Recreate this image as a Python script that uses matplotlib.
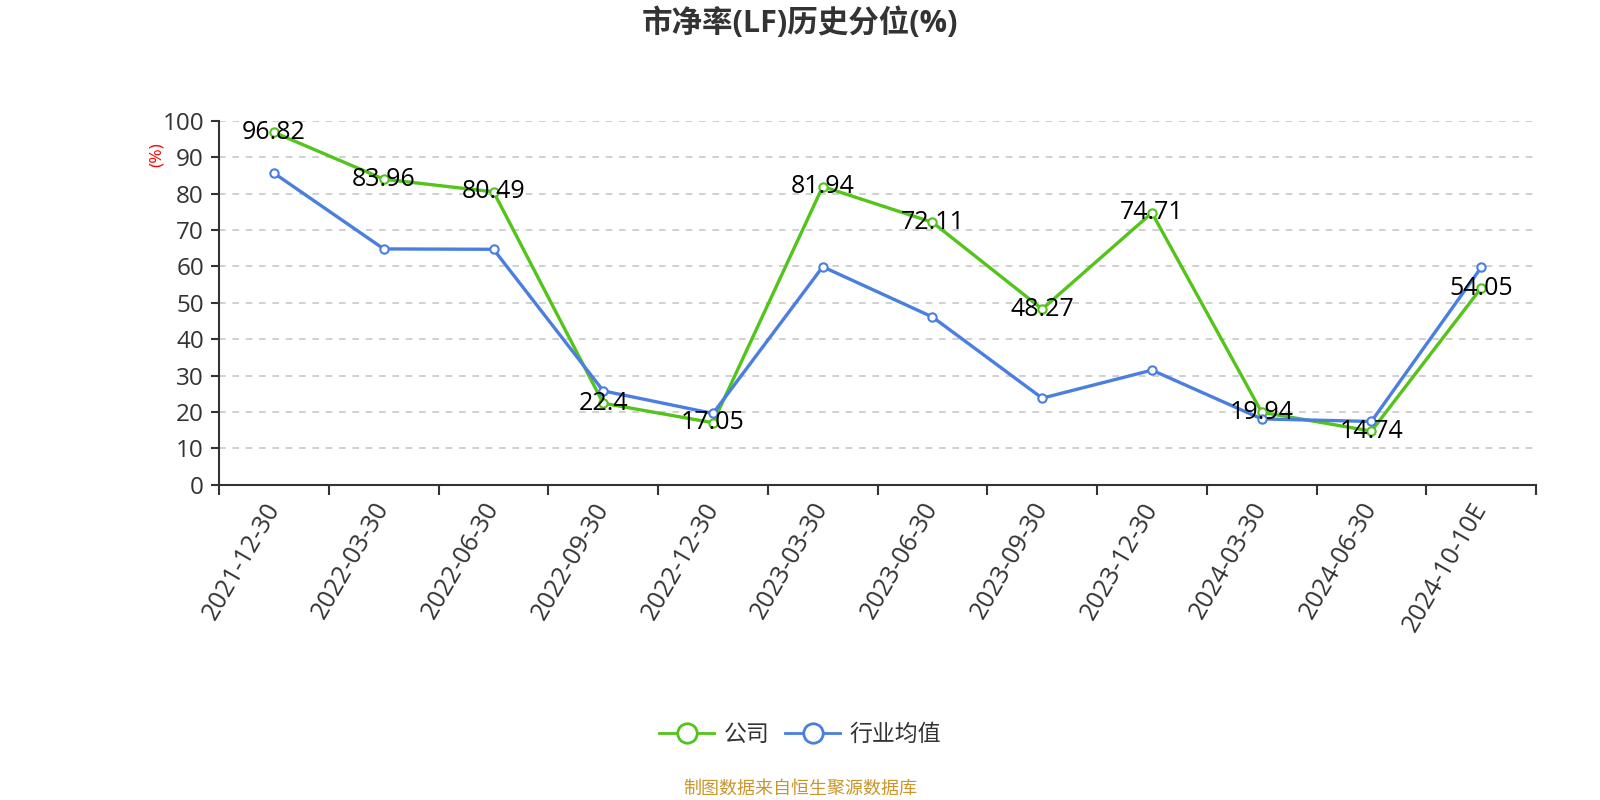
import matplotlib
matplotlib.use("Agg")
import matplotlib.pyplot as plt
from matplotlib.lines import Line2D
import numpy as np

plt.rcParams['font.family'] = ['Open Sans', 'Noto Sans CJK SC', 'DejaVu Sans']

categories = ["2021-12-30", "2022-03-30", "2022-06-30", "2022-09-30", "2022-12-30",
              "2023-03-30", "2023-06-30", "2023-09-30", "2023-12-30", "2024-03-30",
              "2024-06-30", "2024-10-10E"]
company = [96.82, 83.96, 80.49, 22.4, 17.05, 81.94, 72.11, 48.27, 74.71, 19.94, 14.74, 54.05]
industry = [85.6, 64.8, 64.7, 25.8, 19.6, 59.9, 46.1, 23.8, 31.5, 18.1, 17.4, 59.7]
yticks = [0, 10, 20, 30, 40, 50, 60, 70, 80, 90, 100]

green = "#52c41a"
blue = "#4a7fe0"
dark = "#333333"

fig = plt.figure(figsize=(16, 8), dpi=100)
ax = fig.add_axes([0.137, 0.394, 0.823, 0.455])

x = np.arange(len(categories))
ax.plot(x, company, color=green, lw=2.4, marker='o', markersize=6,
        markerfacecolor='white', markeredgecolor=green, markeredgewidth=1.5, zorder=3)
ax.plot(x, industry, color=blue, lw=2.4, marker='o', markersize=6,
        markerfacecolor='white', markeredgecolor=blue, markeredgewidth=1.5, zorder=3)

for xi, v in zip(x, company):
    ax.text(xi, v, f"{v:g}", ha='center', va='center', fontsize=18, color='black', zorder=4)

ax.set_xlim(-0.5, len(categories) - 0.5)
ax.set_ylim(0, 100)
ax.set_yticks(yticks)
ax.set_yticklabels([str(t) for t in yticks], fontsize=17.5, color=dark)
ax.tick_params(axis='y', length=6, width=1.5, color=dark, pad=5)

ax.set_xticks(x)
ax.set_xticklabels(categories, rotation=60, ha='right', va='center',
                   rotation_mode='anchor', fontsize=18, color=dark)
ax.tick_params(axis='x', which='major', length=0, pad=14)
ax.set_xticks(np.arange(-0.5, len(categories), 1.0), minor=True)
ax.tick_params(axis='x', which='minor', length=7, width=1.5, color=dark)

for v in yticks[1:]:
    ax.axhline(v, color='#c8c8c8', lw=1.2, ls=(0, (4, 4)), zorder=1)

for s in ['top', 'right']:
    ax.spines[s].set_visible(False)
for s in ['left', 'bottom']:
    ax.spines[s].set_color(dark)
    ax.spines[s].set_linewidth(1.5)

fig.text(0.098, 0.807, "(%)", rotation=90, color='red', fontsize=12.5, ha='center', va='center')

fig.text(0.5, 0.971, "市净率(LF)历史分位(%)", ha='center', va='center',
         fontsize=22, fontweight='bold', color=dark)

handles = [Line2D([0], [0], color=green, lw=2, marker='o', markersize=14,
                  markerfacecolor='white', markeredgecolor=green, markeredgewidth=2),
           Line2D([0], [0], color=blue, lw=2, marker='o', markersize=14,
                  markerfacecolor='white', markeredgecolor=blue, markeredgewidth=2)]
fig.legend(handles, ["公司", "行业均值"], loc='center', bbox_to_anchor=(0.5, 0.081),
           ncol=2, frameon=False, fontsize=16.5, handlelength=2.4, columnspacing=0.7,
           handletextpad=0.4, labelcolor=dark)

fig.text(0.5, 0.014, "制图数据来自恒生聚源数据库", ha='center', va='center',
         fontsize=13, color='#c9962b')

fig.savefig("out.png", dpi=100)
